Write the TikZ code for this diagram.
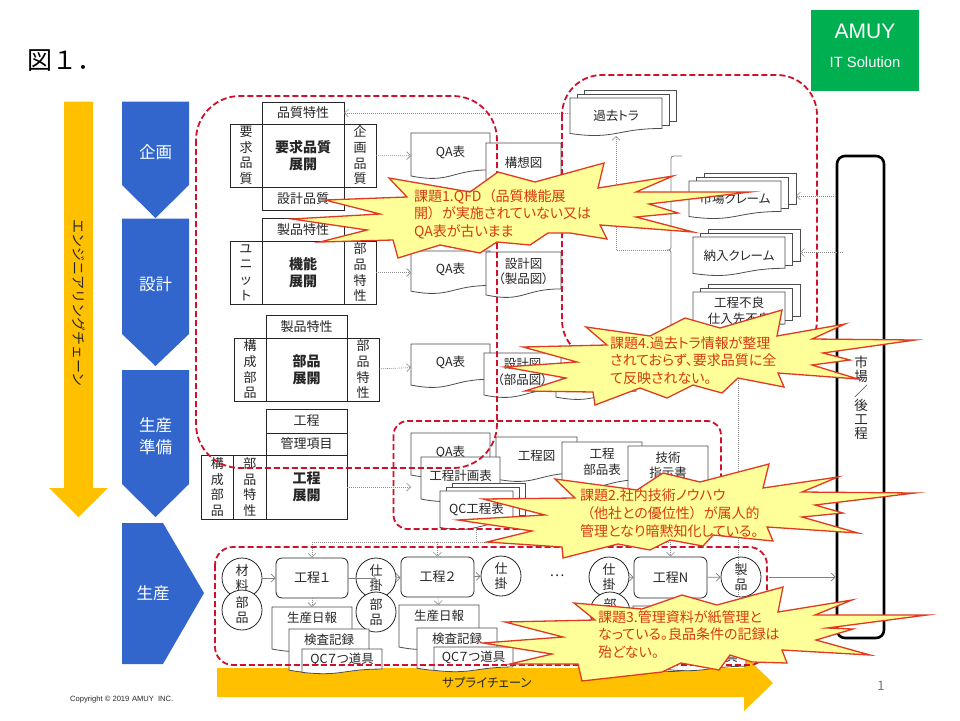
\documentclass[tikz,border=0pt]{standalone}
\usepackage{fontspec}
\setmainfont[RawFeature={+palt}]{Noto Sans CJK JP}
\newfontfamily\fullw{Noto Sans CJK JP}
\newfontfamily\lat{Liberation Sans}
\usetikzlibrary{arrows.meta,calc}
\definecolor{blu}{HTML}{3366CC}
\definecolor{org}{HTML}{FFC000}
\definecolor{grn}{HTML}{00B050}
\definecolor{rdd}{HTML}{D0102C}
\definecolor{brst}{HTML}{FFFF99}
\definecolor{brl}{HTML}{E03A20}
\definecolor{brt}{HTML}{D63A10}
\definecolor{ink}{HTML}{262626}
\tikzset{
  blank/.style={inner sep=0,outer sep=0},
  cell/.style={draw=ink,line width=.9pt,fill=white,inner sep=0,outer sep=0,align=center,text=ink,font=\fontsize{13}{15.7}\selectfont},
  mainc/.style={cell,font=\fontsize{14}{17}\selectfont\bfseries},
  docline/.style={draw=black!70,line width=.8pt,fill=white},
  doctext/.style={inner sep=0,align=center,text=ink,font=\fontsize{12.5}{15.5}\selectfont},
  circ/.style={circle,draw=ink,line width=.8pt,fill=white,minimum size=40pt,inner sep=0,align=center,text=ink,font=\fontsize{13}{14.5}\selectfont},
  proc/.style={draw=ink,line width=.8pt,fill=white,rounded corners=6pt,inner sep=0,align=center,text=ink,font=\fontsize{13}{16}\selectfont},
  chev/.style={fill=blu,draw=none},
  chevt/.style={text=white,inner sep=0,align=center,font=\fontsize{16.5}{22}\selectfont},
  bigarrow/.style={fill=org,draw=none},
  dotl/.style={draw=black!45,line width=.6pt,dash pattern=on 1pt off 1pt},
  dota/.style={dotl,-{Straight Barb[length=4pt,width=8pt,line width=.6pt]}},
  gra/.style={draw=black!50,line width=.8pt,-{Straight Barb[length=4pt,width=8pt,line width=.7pt]}},
  reddash/.style={draw=rdd,line width=1.8pt,dash pattern=on 6pt off 3pt},
  burst/.style={fill=brst,draw=brl,line width=1.3pt,line join=miter,miter limit=20},
  brtxt/.style={inner sep=0,anchor=north west,align=left,text=brt,font=\fontsize{14}{17.6}\selectfont},
}
\def\docf{.42}
\newcommand\Cell[7][cell]{% style name x1 y1 x2 y2 text
  \pgfmathsetmacro\cw{#5-#3}\pgfmathsetmacro\ch{#6-#4}
  \node[#1,minimum width=\cw pt,minimum height=\ch pt] (#2) at ({(#3+#5)/2},{(#4+#6)/2}) {#7};}
\newcommand\Doc[6]{% name x1 y1 x2 y2 text
  \pgfmathsetmacro\dw{#4-#2}\pgfmathsetmacro\dh{#5-#3}\pgfmathsetmacro\dxm{(#2+#4)/2}
  \pgfmathsetmacro\dyr{#3+.802*\dh}\pgfmathsetmacro\dyl{#3+.934*\dh}\pgfmathsetmacro\dyc{#3+1.107*\dh}
  \node[blank,minimum width=\dw pt,minimum height=\dh pt] (#1) at (\dxm,{(#3+#5)/2}) {};
  \draw[docline] (#2,#3) -- (#4,#3) -- (#4,\dyr) .. controls (\dxm,\dyr) and (\dxm,\dyc) .. (#2,\dyl) -- cycle;
  \node[doctext] (#1t) at (\dxm,{#3+\docf*\dh}) {#6};}
\newcommand\Stack[8]{% name x1 y1 w h dx dy text
  \pgfmathsetmacro\bw{#4+2*#6}\pgfmathsetmacro\bh{#5+2*#7}\pgfmathsetmacro\rh{.82*#5}
  \node[blank,minimum width=\bw pt,minimum height=\bh pt] (#1) at ({#2+\bw/2},{#3-2*#7+\bh/2}) {};
  \draw[docline] ({#2+2*#6},{#3-2*#7}) rectangle ++(#4,\rh);
  \draw[docline] ({#2+#6},{#3-#7}) rectangle ++(#4,\rh);
  \Doc{#1f}{#2}{#3}{#2+#4}{#3+#5}{#8}}
\begin{document}
\begin{tikzpicture}[x=1pt,y=-1pt]
\useasboundingbox (0,0) rectangle (960,720);
\fill[white] (0,0) rectangle (960,720);

% title / logo
\node[inner sep=0,anchor=west,font=\fullw\fontsize{25}{25}\selectfont] (title) at (27,61) {図１．};
\node[fill=grn,minimum width=108pt,minimum height=81pt,inner sep=0] (logo) at (865,50.5) {};
\node[text=white,inner sep=0,font=\lat\fontsize{21}{21}\selectfont] (amuy) at (865,31) {AMUY};
\node[text=white,inner sep=0,font=\lat\fontsize{14.8}{15}\selectfont] (its) at (865,62) {IT Solution};

% big arrows
\fill[bigarrow] (64,101.5) -- (93,101.5) -- (93,488) -- (108,488) -- (78.5,517) -- (49,488) -- (64,488) -- cycle;
\node[rotate=-90,inner sep=0,text=ink,font=\fullw\fontsize{14}{14}\selectfont] (eng) at (78.5,303) {エンジニアリングチェーン};
\fill[bigarrow] (217,668) -- (744,668) -- (744,655) -- (773,683) -- (744,711) -- (744,697) -- (217,697) -- cycle;
\node[inner sep=0,text=ink,font=\fontsize{12.5}{13}\selectfont] (sup) at (487,683) {サプライチェーン};

% chevrons
\fill[chev] (122,101.5) -- (189,101.5) -- (189,185) -- (155.5,218) -- (122,185) -- cycle;
\node[chevt] (c1) at (155.5,152) {企画};
\fill[chev] (122,218.5) -- (189,218.5) -- (189,334) -- (155.5,366) -- (122,334) -- cycle;
\node[chevt] (c2) at (155.5,284) {設計};
\fill[chev] (122,370) -- (189,370) -- (189,484) -- (155.5,517) -- (122,484) -- cycle;
\node[chevt] (c3) at (155.5,436) {生産\\準備};
\fill[chev] (122,523) -- (163,523) -- (204,593) -- (163,664) -- (122,664) -- cycle;
\node[chevt] (c4) at (153,593) {生産};

% QFD tables
\Cell{a1}{262}{102}{344}{124}{品質特性}
\Cell{a2}{230}{124}{262}{187}{要\\求\\品\\質}
\Cell[mainc]{a3}{262}{124}{344}{187}{要求品質\\展開}
\Cell{a4}{344}{124}{376}{187}{企\\画\\品\\質}
\Cell{a5}{262}{187}{344}{210}{設計品質}
\Cell{b1}{262}{218}{344}{241}{製品特性}
\Cell{b2}{230}{241}{262}{304}{ユ\\ニ\\ッ\\ト}
\Cell[mainc]{b3}{262}{241}{344}{304}{機能\\展開}
\Cell{b4}{344}{241}{376}{304}{部\\品\\特\\性}
\Cell{d1}{266}{315}{347}{338}{製品特性}
\Cell{d2}{234}{338}{266}{401}{構\\成\\部\\品}
\Cell[mainc]{d3}{266}{338}{347}{401}{部品\\展開}
\Cell{d4}{347}{338}{379}{401}{部\\品\\特\\性}
\Cell{e1}{266}{409}{347}{433}{工程}
\Cell{e2}{266}{433}{347}{455}{管理項目}
\Cell{e3}{201}{455}{233.5}{519}{構\\成\\部\\品}
\Cell{e4}{233.5}{455}{266}{519}{部\\品\\特\\性}
\Cell[mainc]{e5}{266}{455}{347}{519}{工程\\展開}

% documents
\Doc{qa1}{411}{133}{490}{179}{QA表}
\Doc{kz}{486}{143}{561}{190}{構想図}
\Doc{qa2}{411}{251}{490}{294}{QA表}
\Doc{sz1}{486}{252}{561}{298}{設計図\\（製品図）}
\Doc{qa3}{411}{344}{490}{388}{QA表}
\Doc{hz}{556}{356}{636}{400}{}
\Doc{sz2}{484}{353}{561}{398}{設計図\\（部品図）}
\Doc{qa4}{411}{433}{490}{478}{QA表}
\Doc{kz1}{496}{437}{577}{482}{工程図}
\Doc{kb}{562}{442}{642}{489}{工程\\部品表}
\Doc{gs}{628}{446}{708}{492}{技術\\指示書}
\Doc{kk}{421}{457}{500}{502}{工程計画表}
\def\docf{.47}
\Stack{qc}{440}{491}{73}{39}{6}{4}{QC工程表}

\Stack{past}{570}{98}{92}{38}{7.3}{3.7}{過去トラ}
\Stack{mk}{689}{181}{92}{38}{7.5}{4}{市場クレーム}
\Stack{nk}{693}{237}{92}{39}{7.5}{4}{納入クレーム}
\Stack{kf}{693}{292}{92}{40}{7.5}{4}{工程不良\\仕入先不良}

% bracket
\draw[black!50,line width=.8pt,rounded corners=2.5pt] (682,156) -- (671,156) -- (671,250) -- (667.5,250) -- (671,250) -- (671,344) -- (682,344);
\coordinate (brk) at (667.5,250);

% market box
\node[draw=black,line width=2.6pt,rounded corners=8pt,minimum width=47pt,minimum height=482pt,inner sep=0] (mkt) at (860.5,397) {};
\node[inner sep=0,align=center,text=ink,font=\fullw\fontsize{13.5}{14.2}\selectfont] (mktt) at (861,398) {市\\場\\／\\後\\工\\程};

% production row
\node[circ] (m1) at (242,578) {材\\料};
\node[circ] (m2) at (242,610) {部\\品};
\Cell[proc]{p1}{276}{558}{348}{598}{工程１}
\node[circ] (w1) at (376,578) {仕\\掛};
\node[circ] (m3) at (376,612) {部\\品};
\Cell[proc]{p2}{401}{557}{474}{597}{工程２}
\node[circ] (w2) at (501,576) {仕\\掛};
\node[inner sep=0,font=\fullw\fontsize{14}{14}\selectfont,text=ink] (dots) at (557,576) {…};
\node[circ] (w3) at (609,577) {仕\\掛};
\node[circ] (m4) at (610,612) {部\\品};
\Cell[proc]{pn}{634}{557}{707}{598}{工程N}
\node[circ] (pr) at (741,577) {製\\品};

\draw[gra] (m1) -- (p1);
\draw[gra] (p1) -- (w1.center);
\draw[gra] (w1) -- (p2);
\draw[gra] (p2) -- (w2);
\draw[gra] (w3) -- (pn);
\draw[gra] (pn) -- (pr);
\draw[gra,shorten <=8pt] (pr) -- (pr -| mkt.west);

\def\docf{.25}
\Doc{r1}{272}{607}{352}{652}{生産日報}
\Doc{i1}{289}{629}{369}{673}{検査記録}
\def\docf{.42}
\Doc{q1}{302}{649}{382}{674}{QC７つ道具}
\def\docf{.25}
\Doc{r2}{399}{605}{479}{650}{生産日報}
\Doc{i2}{417}{628}{497}{671}{検査記録}
\def\docf{.42}
\Doc{q2}{434}{647}{513}{672}{QC７つ道具}
\def\docf{.25}
\Doc{r3}{633}{606}{713}{650}{生産日報}
\Doc{i3}{650}{628}{730}{672}{検査記録}
\def\docf{.42}
\Doc{q3}{666}{647}{746}{671}{QC７つ道具}

% dotted connectors
\draw[dota] (pastf.west |- a1) -- (a1);
\draw[dota] (a4) -- (qa1);
\draw[dota] (b4) -- (qa2);
\draw[dota] (d4) -- (qa3);
\draw[dota] (e5.east) -- (qa4.west |- e5);
\draw[dota] (brk) -| (pastf.south);
\draw[dota] (mkt.west |- mk) -- (mk);
\draw[dota] ($(mkt.west |- nk)+(7,0)$) -- (nk);
\coordinate (pk) at (738,595);
\draw[dotl] (pk) -- (kf.south -| pk);
\coordinate (jn) at (476.5,542);
\coordinate (qcb) at (476.5,528);
\draw[dotl] (qcb) -- (jn);
\draw[dotl] (p1.north |- jn) -- (pn.north |- jn);
\draw[dota] (p1.north |- jn) -- (p1);
\draw[dota] (p2.north |- jn) -- (p2);
\draw[dota] (pn.north |- jn) -- (pn);
\draw[dota] (p1) -- (r1);
\draw[dota] (p2) -- (r2);
\draw[dota] (pn) -- (r3);

% red dashed groups
\draw[reddash,rounded corners=44pt] (196,96) rectangle (497,468);
\draw[reddash,rounded corners=40pt] (562,75) rectangle (817,360);
\draw[reddash,rounded corners=14pt] (393.5,421) rectangle (721,529);
\draw[reddash,rounded corners=18pt] (215,547) rectangle (767,665);

% bursts
\draw[burst] (389,178) -- (470,192) -- (498,172) -- (535,182) -- (604,163) -- (598,188) -- (673,176) -- (636,192) -- (750,192) -- (649,204) -- (678,213) -- (636,217) -- (693,232) -- (600,225) -- (607,239) -- (570,233) -- (548,233) -- (530,245) -- (497,242) -- (480,253) -- (440,245) -- (398,258) -- (393,240) -- (320,242) -- (367,230) -- (292,219) -- (380,214) -- (325,200) -- (407,197) -- cycle;
\node[brtxt] (t1) at (414,189) {課題1.QFD\hspace{.5em}（品質機能展\\開）\hspace{.5em}が実施されていない又は\\QA表が古いまま};

\draw[burst] (586,327) -- (650,336) -- (685,318) -- (720,328) -- (782,310) -- (777,336) -- (845,324) -- (812,339) -- (915,340) -- (823,353) -- (850,360) -- (812,365) -- (858,379) -- (778,373) -- (784,387) -- (738,378) -- (722,393) -- (693,385) -- (667,398) -- (640,388) -- (595,405) -- (593,392) -- (525,391) -- (566,378) -- (505,367) -- (577,362) -- (523,347) -- (607,345) -- cycle;
\node[brtxt] (t4) at (610,336) {課題4.過去トラ情報が整理\\されておらず、要求品質に全\\て反映されない。};

\draw[burst] (555,479) -- (575,498) -- (483,499) -- (545,515) -- (458,520) -- (532,531) -- (487,542) -- (562,547) -- (563,558) -- (618,544) -- (650,550) -- (670,540) -- (703,546) -- (713,535) -- (773,541) -- (767,527) -- (858,533) -- (802,517) -- (843,513) -- (815,505) -- (915,493) -- (802,492) -- (838,477) -- (763,488) -- (769,464) -- (700,482) -- (663,473) -- (637,490) -- cycle;
\node[brtxt] (t2) at (580,489) {課題2.社内技術ノウハウ\\\hspace{.5em}（他社との優位性）\hspace{.5em}が属人的\\管理となり暗黙知化している。};

\draw[burst] (574,603) -- (595,620) -- (505,622) -- (563,637) -- (483,643) -- (552,654) -- (510,664) -- (578,664) -- (582,681) -- (662,672) -- (681,663) -- (719,670) -- (730,655) -- (752,662) -- (787,663) -- (782,650) -- (870,655) -- (816,640) -- (853,629) -- (827,628) -- (927,615) -- (815,615) -- (852,600) -- (778,612) -- (783,587) -- (717,605) -- (682,595) -- (642,609) -- cycle;
\node[brtxt] (t3) at (598,610) {課題3.管理資料が紙管理と\\なっている。良品条件の記録は\\殆どない。};

% footer
\node[inner sep=0,anchor=west,text=ink,font=\lat\fontsize{7.6}{8}\selectfont] (copy) at (70,700) {Copyright © 2019 \hspace{.5pt}AMUY\hspace{4pt}INC.};
\node[inner sep=0,text=black!55,font=\fontsize{13}{13}\selectfont] (pg) at (881,686) {1};
\end{tikzpicture}
\end{document}
